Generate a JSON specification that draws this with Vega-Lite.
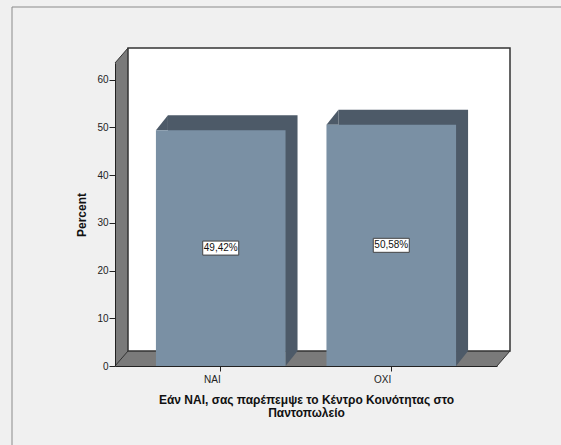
{
  "$schema": "https://vega.github.io/schema/vega-lite/v6.json",
  "width": 382,
  "height": 303,
  "autosize": {"type": "none"},
  "padding": {"left": 115, "top": 63, "right": 64, "bottom": 79},
  "background": "#f0f0f0",
  "config": {
    "view": {"stroke": null},
    "font": "Liberation Sans",
    "locale": {"number": {"decimal": ",", "thousands": ".", "grouping": [3], "currency": ["", "€"]}}
  },
  "datasets": {
    "answers": [
      {"answer": "NAI", "pct": 49.42},
      {"answer": "OXI", "pct": 50.58}
    ],
    "frame": [{}]
  },
  "layer": [
    {
      "data": {"name": "frame"},
      "mark": {"type": "rule", "color": "#8a8a8a", "strokeWidth": 1, "xOffset": -103, "yOffset": -56, "x2Offset": 64, "y2Offset": -56},
      "encoding": {
        "x": {"value": 0},
        "x2": {"value": "width"},
        "y": {"value": 0},
        "y2": {"value": 0}
      }
    },
    {
      "data": {"name": "frame"},
      "mark": {"type": "rule", "color": "#8a8a8a", "strokeWidth": 1, "xOffset": -103, "yOffset": -56, "x2Offset": -103, "y2Offset": 79},
      "encoding": {
        "x": {"value": 0},
        "x2": {"value": 0},
        "y": {"value": 0},
        "y2": {"value": "height"}
      }
    },
    {
      "data": {"name": "frame"},
      "mark": {"type": "rect", "fill": "#7a7a7a", "stroke": null, "yOffset": -15, "x2Offset": 13},
      "encoding": {
        "x": {"value": 0},
        "x2": {"value": "width"},
        "y": {"datum": 63.5, "type": "quantitative"},
        "y2": {"datum": 0}
      }
    },
    {
      "data": {"name": "frame"},
      "mark": {"type": "point", "shape": "M0,0L0.8667,-1L0,-1Z", "size": 900, "filled": true, "fill": "#f0f0f0", "opacity": 1, "strokeWidth": 0},
      "encoding": {
        "x": {"value": 0},
        "y": {"datum": 63.5, "type": "quantitative"}
      }
    },
    {
      "data": {"name": "frame"},
      "mark": {"type": "point", "shape": "M0,0L0.8667,-1L0.8667,0Z", "size": 900, "filled": true, "fill": "#f0f0f0", "opacity": 1, "strokeWidth": 0},
      "encoding": {
        "x": {"value": "width"},
        "y": {"datum": 0, "type": "quantitative"}
      }
    },
    {
      "data": {"name": "frame"},
      "mark": {"type": "rect", "fill": "white", "stroke": "#333333", "strokeWidth": 1.5, "xOffset": 13, "x2Offset": 13, "yOffset": -15, "y2Offset": -15},
      "encoding": {
        "x": {"value": 0},
        "x2": {"value": "width"},
        "y": {"datum": 63.5, "type": "quantitative"},
        "y2": {"datum": 0}
      }
    },
    {
      "data": {"name": "frame"},
      "mark": {"type": "rule", "color": "#333333", "strokeWidth": 1, "x2Offset": 13, "y2Offset": -15},
      "encoding": {
        "x": {"value": 0},
        "x2": {"value": 0},
        "y": {"datum": 0, "type": "quantitative"},
        "y2": {"datum": 0}
      }
    },
    {
      "data": {"name": "frame"},
      "mark": {"type": "rule", "color": "#333333", "strokeWidth": 1, "x2Offset": 13, "y2Offset": -15},
      "encoding": {
        "x": {"value": 0},
        "x2": {"value": 0},
        "y": {"datum": 63.5, "type": "quantitative"},
        "y2": {"datum": 63.5}
      }
    },
    {
      "data": {"name": "frame"},
      "mark": {"type": "rule", "color": "#333333", "strokeWidth": 1, "x2Offset": 13, "y2Offset": -15},
      "encoding": {
        "x": {"value": "width"},
        "x2": {"value": "width"},
        "y": {"datum": 0, "type": "quantitative"},
        "y2": {"datum": 0}
      }
    },
    {
      "data": {"name": "answers"},
      "mark": {"type": "bar", "color": "#4d5a68", "xOffset": 12, "x2Offset": 12, "yOffset": -15, "y2Offset": -15},
      "encoding": {
        "x": {"field": "answer", "type": "nominal", "scale": {"paddingInner": 0.24, "paddingOuter": 0.24}},
        "y": {"field": "pct", "type": "quantitative"}
      }
    },
    {
      "data": {"name": "answers"},
      "mark": {"type": "point", "shape": "M0,0L0.8,-1L0.8,0Z", "size": 900, "filled": true, "fill": "#4d5a68", "opacity": 1, "strokeWidth": 0},
      "encoding": {
        "x": {"field": "answer", "type": "nominal", "bandPosition": 0},
        "y": {"field": "pct", "type": "quantitative"}
      }
    },
    {
      "data": {"name": "answers"},
      "mark": {"type": "point", "shape": "M0,0L0.8,-1L0,-1Z", "size": 900, "filled": true, "fill": "#4d5a68", "opacity": 1, "strokeWidth": 0},
      "encoding": {
        "x": {"field": "answer", "type": "nominal", "bandPosition": 1},
        "y": {"datum": 0, "type": "quantitative"}
      }
    },
    {
      "data": {"name": "answers"},
      "mark": {"type": "bar", "color": "#7a90a4"},
      "encoding": {
        "x": {
          "field": "answer", "type": "nominal",
          "axis": {
            "title": ["Εάν ΝΑΙ, σας παρέπεμψε το Κέντρο Κοινότητας στο", "Παντοπωλείο"],
            "labelAngle": 0, "labelFontSize": 10, "labelColor": "#222222", "labelPadding": 3, "labelBaseline": "top",
            "tickSize": 5, "tickColor": "#222222", "domainColor": "#222222",
            "titleFontSize": 12, "titleFontWeight": "bold", "titleColor": "#111111", "titleLineHeight": 13, "titlePadding": 10,
            "zindex": 1
          }
        },
        "y": {
          "field": "pct", "type": "quantitative",
          "scale": {"domain": [0, 63.5], "nice": false},
          "axis": {
            "values": [0, 10, 20, 30, 40, 50, 60],
            "title": "Percent", "grid": false,
            "labelFontSize": 10, "labelColor": "#222222", "labelPadding": 1,
            "tickSize": 6, "tickColor": "#222222", "domainColor": "#222222",
            "titleFontSize": 12, "titleFontWeight": "bold", "titleColor": "#111111", "titlePadding": 8,
            "zindex": 1
          }
        }
      }
    },
    {
      "data": {"name": "answers"},
      "transform": [{"calculate": "datum.pct / 2", "as": "mid"}],
      "mark": {"type": "point", "shape": "M-1.2,-0.4667H1.2V0.4667H-1.2Z", "size": 900, "filled": true, "fill": "white", "stroke": "#444444", "strokeWidth": 1, "opacity": 1},
      "encoding": {
        "x": {"field": "answer", "type": "nominal"},
        "y": {"field": "mid", "type": "quantitative"}
      }
    },
    {
      "data": {"name": "answers"},
      "transform": [
        {"calculate": "datum.pct / 2", "as": "mid"},
        {"calculate": "datum.pct / 100", "as": "frac"}
      ],
      "mark": {"type": "text", "fontSize": 10, "color": "#111111", "baseline": "middle", "align": "center"},
      "encoding": {
        "x": {"field": "answer", "type": "nominal"},
        "y": {"field": "mid", "type": "quantitative"},
        "text": {"field": "frac", "type": "quantitative", "format": ".2%"}
      }
    }
  ]
}
